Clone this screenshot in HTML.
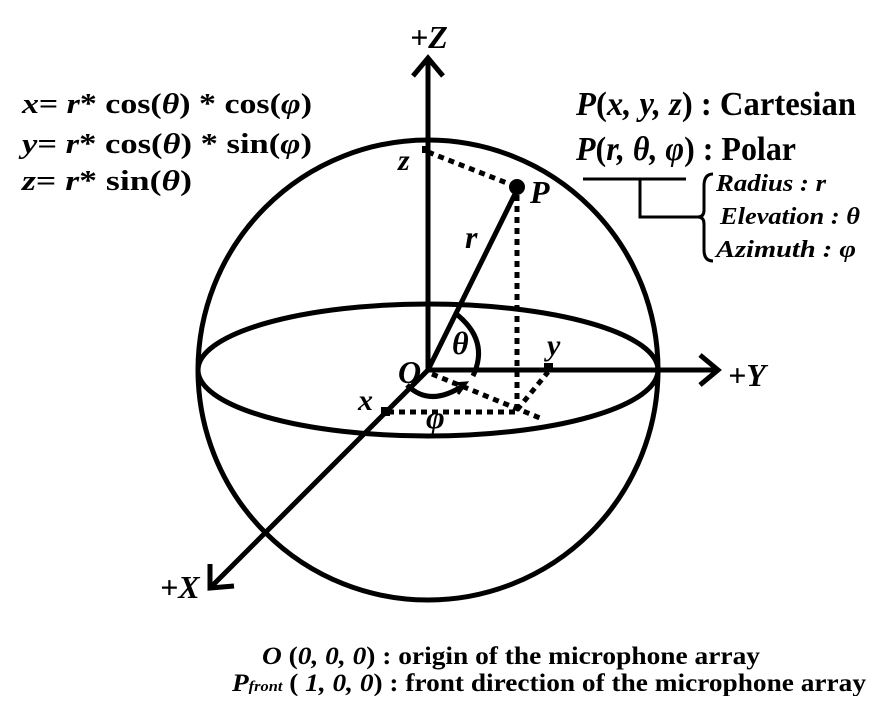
<!DOCTYPE html>
<html><head><style>body{margin:0;background:#fff}</style></head><body>
<svg width="893" height="696" viewBox="0 0 893 696" xmlns="http://www.w3.org/2000/svg" font-family="Liberation Serif, serif" font-weight="bold">
<g fill="none" stroke="#000" stroke-width="5">
<circle cx="428" cy="370" r="230"/>
<ellipse cx="428" cy="370" rx="230" ry="66"/>
<line x1="428" y1="370" x2="428" y2="58"/>
<polyline points="413,76 428,58 443,76"/>
<line x1="428" y1="370" x2="718" y2="370"/>
<polyline points="700,355 718,370 700,385"/>
<line x1="428" y1="370" x2="212" y2="586"/>
<polyline points="210,564 210,588 234,586"/>
<line x1="428" y1="370" x2="517" y2="190"/>
<path d="M455,313 Q490,340 473,376"/>
<path d="M407,385 Q430,408 464,385"/>
<polyline points="452,384 466,383 458,394" stroke-width="3"/>
</g>
<g fill="none" stroke="#000" stroke-width="5" stroke-dasharray="6,5">
<line x1="428" y1="152" x2="517" y2="187"/>
<line x1="517" y1="195" x2="517" y2="410"/>
<line x1="388" y1="412" x2="517" y2="412"/>
<line x1="517" y1="410" x2="548" y2="372"/>
<line x1="432" y1="374" x2="540" y2="418"/>
</g>
<circle cx="517" cy="187" r="8"/>
<rect x="544" y="363" width="9" height="9"/>
<rect x="381" y="407" width="9" height="9"/>
<rect x="422" y="146" width="7" height="7"/>
<g font-style="italic" font-size="32">
<text x="410" y="48">+Z</text>
<text x="728" y="386">+Y</text>
<text x="160" y="598">+X</text>
<text x="530" y="203">P</text>
<text x="452" y="354">θ</text>
<text x="547" y="355" font-size="30">y</text>
<text x="398" y="383">O</text>
<text x="426" y="428">φ</text>
<text x="358" y="410" font-size="30">x</text>
<text x="465" y="248">r</text>
<text x="398" y="170" font-size="30">z</text>
</g>
<g font-size="29">
<text x="22" y="113" textLength="290" lengthAdjust="spacingAndGlyphs"><tspan font-style="italic">x</tspan>= <tspan font-style="italic">r</tspan>* cos(<tspan font-style="italic">θ</tspan>) * cos(<tspan font-style="italic">φ</tspan>)</text>
<text x="22" y="153" textLength="290" lengthAdjust="spacingAndGlyphs"><tspan font-style="italic">y</tspan>= <tspan font-style="italic">r</tspan>* cos(<tspan font-style="italic">θ</tspan>) * sin(<tspan font-style="italic">φ</tspan>)</text>
<text x="22" y="190" textLength="170" lengthAdjust="spacingAndGlyphs"><tspan font-style="italic">z</tspan>= <tspan font-style="italic">r</tspan>* sin(<tspan font-style="italic">θ</tspan>)</text>
</g>
<g font-size="34">
<text x="576" y="115" textLength="280" lengthAdjust="spacingAndGlyphs"><tspan font-style="italic">P</tspan>(<tspan font-style="italic">x, y, z</tspan>) : Cartesian</text>
<text x="576" y="160" textLength="220" lengthAdjust="spacingAndGlyphs"><tspan font-style="italic">P</tspan>(<tspan font-style="italic">r, θ, φ</tspan>) : Polar</text>
</g>
<g fill="none" stroke="#000" stroke-width="3">
<line x1="583" y1="179" x2="686" y2="179"/>
<polyline points="640,179 640,217 698,217"/>
<path d="M713,174 Q704,174 704,186 L704,210 Q704,217 698,217 Q704,217 704,224 L704,250 Q704,261 713,261"/>
</g>
<g font-style="italic" font-size="24">
<text x="716" y="191" textLength="110" lengthAdjust="spacingAndGlyphs">Radius : r</text>
<text x="720" y="224" textLength="140" lengthAdjust="spacingAndGlyphs">Elevation : θ</text>
<text x="716" y="257" textLength="140" lengthAdjust="spacingAndGlyphs">Azimuth : φ</text>
</g>
<g font-size="25">
<text x="262" y="664" textLength="498" lengthAdjust="spacingAndGlyphs"><tspan font-style="italic">O</tspan> (<tspan font-style="italic">0, 0, 0</tspan>) : origin of the microphone array</text>
<text x="232" y="691" textLength="634" lengthAdjust="spacingAndGlyphs"><tspan font-style="italic">P</tspan><tspan font-style="italic" font-size="15">front</tspan> ( <tspan font-style="italic">1, 0, 0</tspan>) : front direction of the microphone array</text>
</g>
</svg>
</body></html>
